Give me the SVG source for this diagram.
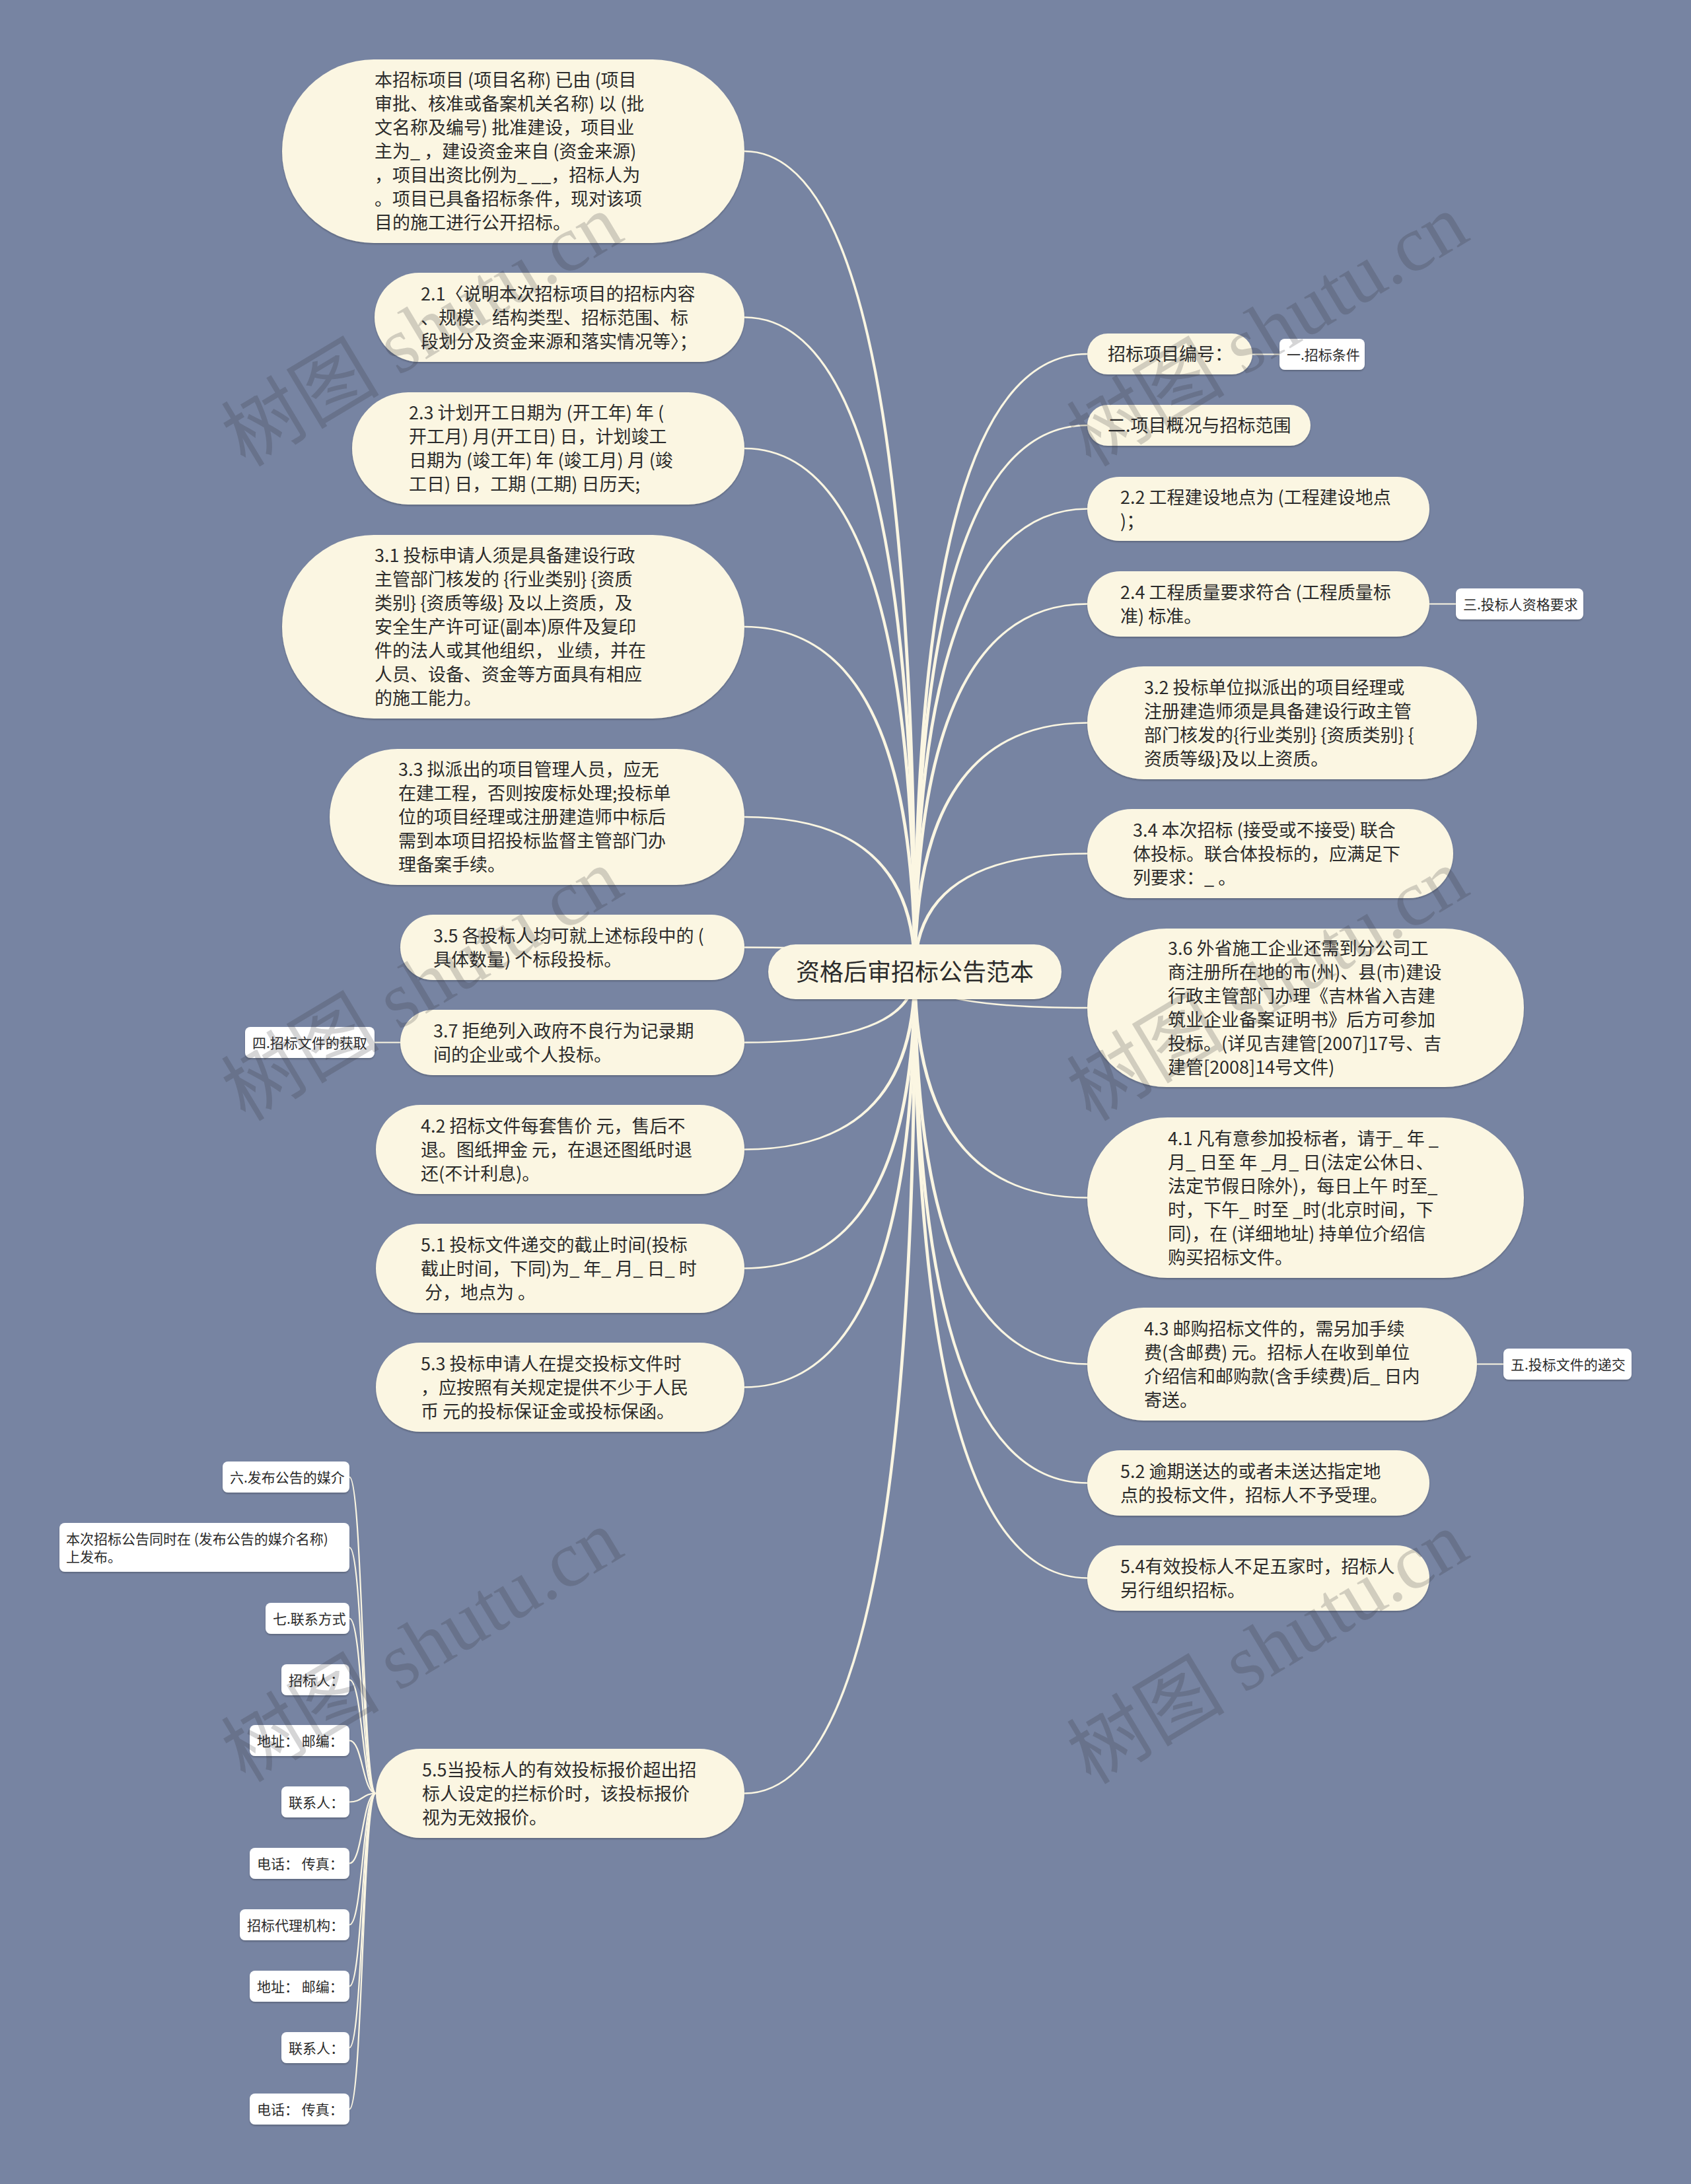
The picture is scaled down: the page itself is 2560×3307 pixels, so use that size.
<svg xmlns="http://www.w3.org/2000/svg" width="2560" height="3307" viewBox="0 0 2560 3307">
<defs>
<filter id="sh" x="-5%" y="-10%" width="110%" height="125%">
<feDropShadow dx="0" dy="2" stdDeviation="1.2" flood-color="#000" flood-opacity="0.22"/>
</filter>
<style>
.bg{fill:#7784A2}
.n{fill:#FBF6E2;filter:url(#sh)}
.w{fill:#FFFFFF;filter:url(#sh)}
.t{font-family:"Noto Sans CJK SC","Noto Sans",sans-serif;font-size:27px;fill:#2B2B2B}
.s{font-family:"Noto Sans CJK SC","Noto Sans",sans-serif;font-size:21px;fill:#2B2B2B}
.r{font-family:"Noto Sans CJK SC","Noto Sans",sans-serif;font-size:36px;fill:#2B2B2B;text-anchor:middle}
.c{fill:#FBF6E2;stroke:none}
.l{fill:none;stroke:#FBF6E2;stroke-width:2.2}
.wm{font-family:"Liberation Serif","Noto Sans CJK SC",serif;font-size:120px;fill:#2B2D33;fill-opacity:0.2;text-anchor:middle}
</style>
</defs>
<rect class="bg" x="0" y="0" width="2560" height="3307"/>

<g id="connectors">
<path class="c" d="M1127 227.8 Q1387.5 227.8 1387.5 1472 L1382.5 1472 Q1382.5 230.2 1127 230.2 Z"/>
<path class="c" d="M1127 479.3 Q1387.5 479.3 1387.5 1472 L1382.5 1472 Q1382.5 481.7 1127 481.7 Z"/>
<path class="c" d="M1127 677.8 Q1387.5 677.8 1387.5 1472 L1382.5 1472 Q1382.5 680.2 1127 680.2 Z"/>
<path class="c" d="M1127 947.8 Q1387.5 947.8 1387.5 1472 L1382.5 1472 Q1382.5 950.2 1127 950.2 Z"/>
<path class="c" d="M1127 1235.8 Q1387.5 1235.8 1387.5 1472 L1382.5 1472 Q1382.5 1238.2 1127 1238.2 Z"/>
<path class="c" d="M1127 1433.3 Q1387.5 1433.3 1387.5 1472 L1382.5 1472 Q1382.5 1435.7 1127 1435.7 Z"/>
<path class="c" d="M1127 1579.7 Q1387.5 1579.7 1387.5 1472 L1382.5 1472 Q1382.5 1577.3 1127 1577.3 Z"/>
<path class="c" d="M1127 1741.7 Q1387.5 1741.7 1387.5 1472 L1382.5 1472 Q1382.5 1739.3 1127 1739.3 Z"/>
<path class="c" d="M1127 1921.7 Q1387.5 1921.7 1387.5 1472 L1382.5 1472 Q1382.5 1919.3 1127 1919.3 Z"/>
<path class="c" d="M1127 2101.7 Q1387.5 2101.7 1387.5 1472 L1382.5 1472 Q1382.5 2099.3 1127 2099.3 Z"/>
<path class="c" d="M1127 2716.7 Q1387.5 2716.7 1387.5 1472 L1382.5 1472 Q1382.5 2714.3 1127 2714.3 Z"/>
<path class="c" d="M1646 534.8 Q1382.5 534.8 1382.5 1472 L1387.5 1472 Q1387.5 537.2 1646 537.2 Z"/>
<path class="c" d="M1646 642.8 Q1382.5 642.8 1382.5 1472 L1387.5 1472 Q1387.5 645.2 1646 645.2 Z"/>
<path class="c" d="M1646 769.3 Q1382.5 769.3 1382.5 1472 L1387.5 1472 Q1387.5 771.7 1646 771.7 Z"/>
<path class="c" d="M1646 913.3 Q1382.5 913.3 1382.5 1472 L1387.5 1472 Q1387.5 915.7 1646 915.7 Z"/>
<path class="c" d="M1646 1093.3 Q1382.5 1093.3 1382.5 1472 L1387.5 1472 Q1387.5 1095.7 1646 1095.7 Z"/>
<path class="c" d="M1646 1291.3 Q1382.5 1291.3 1382.5 1472 L1387.5 1472 Q1387.5 1293.7 1646 1293.7 Z"/>
<path class="c" d="M1646 1527.2 Q1382.5 1527.2 1382.5 1472 L1387.5 1472 Q1387.5 1524.8 1646 1524.8 Z"/>
<path class="c" d="M1646 1814.7 Q1382.5 1814.7 1382.5 1472 L1387.5 1472 Q1387.5 1812.3 1646 1812.3 Z"/>
<path class="c" d="M1646 2066.7 Q1382.5 2066.7 1382.5 1472 L1387.5 1472 Q1387.5 2064.3 1646 2064.3 Z"/>
<path class="c" d="M1646 2246.7 Q1382.5 2246.7 1382.5 1472 L1387.5 1472 Q1387.5 2244.3 1646 2244.3 Z"/>
<path class="c" d="M1646 2390.7 Q1382.5 2390.7 1382.5 1472 L1387.5 1472 Q1387.5 2388.3 1646 2388.3 Z"/>
<path class="l" d="M1896 536.5 L1937 536.5"/>
<path class="l" d="M2164 914.5 L2204 914.5"/>
<path class="l" d="M2236 2065.5 L2276 2065.5"/>
<path class="l" d="M606 1578.5 L567 1578.5"/>
<path class="l" d="M569 2715.5 C549 2715.5 549 2236.5 529 2236.5"/>
<path class="l" d="M569 2715.5 C549 2715.5 549 2343 529 2343"/>
<path class="l" d="M569 2715.5 C549 2715.5 549 2450.5 529 2450.5"/>
<path class="l" d="M569 2715.5 C549 2715.5 549 2543.5 529 2543.5"/>
<path class="l" d="M569 2715.5 C549 2715.5 549 2635.5 529 2635.5"/>
<path class="l" d="M569 2715.5 C549 2715.5 549 2728.5 529 2728.5"/>
<path class="l" d="M569 2715.5 C549 2715.5 549 2821.5 529 2821.5"/>
<path class="l" d="M569 2715.5 C549 2715.5 549 2914.5 529 2914.5"/>
<path class="l" d="M569 2715.5 C549 2715.5 549 3007.5 529 3007.5"/>
<path class="l" d="M569 2715.5 C549 2715.5 549 3100.5 529 3100.5"/>
<path class="l" d="M569 2715.5 C549 2715.5 549 3193.5 529 3193.5"/>
</g>

<g id="root">
<rect class="n" x="1163" y="1430" width="444" height="83" rx="41.5"/>
<text class="r" x="1385" y="1485">资格后审招标公告范本</text>
</g>

<g id="node-l1">
<rect class="n" x="427" y="90" width="700" height="278" rx="139"/>
<text class="t"><tspan x="567" y="131">本招标项目 (项目名称) 已由 (项目</tspan><tspan x="567" y="167">审批、核准或备案机关名称) 以 (批</tspan><tspan x="567" y="203">文名称及编号) 批准建设，项目业</tspan><tspan x="567" y="239">主为_ ，建设资金来自 (资金来源)</tspan><tspan x="567" y="275">，项目出资比例为_ __，招标人为</tspan><tspan x="567" y="311">。项目已具备招标条件，现对该项</tspan><tspan x="567" y="347">目的施工进行公开招标。</tspan></text>
</g>
<g id="node-l2">
<rect class="n" x="567" y="413" width="560" height="135" rx="67.5"/>
<text class="t"><tspan x="637" y="454.5">2.1〈说明本次招标项目的招标内容</tspan><tspan x="637" y="490.5">、规模、结构类型、招标范围、标</tspan><tspan x="637" y="526.5">段划分及资金来源和落实情况等〉；</tspan></text>
</g>
<g id="node-l3">
<rect class="n" x="533" y="594" width="594" height="170" rx="85"/>
<text class="t"><tspan x="619" y="635">2.3 计划开工日期为 (开工年) 年 (</tspan><tspan x="619" y="671">开工月) 月(开工日) 日，计划竣工</tspan><tspan x="619" y="707">日期为 (竣工年) 年 (竣工月) 月 (竣</tspan><tspan x="619" y="743">工日) 日，工期 (工期) 日历天;</tspan></text>
</g>
<g id="node-l4">
<rect class="n" x="427" y="810" width="700" height="278" rx="139"/>
<text class="t"><tspan x="567" y="851">3.1 投标申请人须是具备建设行政</tspan><tspan x="567" y="887">主管部门核发的 {行业类别} {资质</tspan><tspan x="567" y="923">类别} {资质等级} 及以上资质，及</tspan><tspan x="567" y="959">安全生产许可证(副本)原件及复印</tspan><tspan x="567" y="995">件的法人或其他组织， 业绩，并在</tspan><tspan x="567" y="1031">人员、设备、资金等方面具有相应</tspan><tspan x="567" y="1067">的施工能力。</tspan></text>
</g>
<g id="node-l5">
<rect class="n" x="499" y="1134" width="628" height="206" rx="103"/>
<text class="t"><tspan x="603" y="1175">3.3 拟派出的项目管理人员，应无</tspan><tspan x="603" y="1211">在建工程，否则按废标处理;投标单</tspan><tspan x="603" y="1247">位的项目经理或注册建造师中标后</tspan><tspan x="603" y="1283">需到本项目招投标监督主管部门办</tspan><tspan x="603" y="1319">理备案手续。</tspan></text>
</g>
<g id="node-l6">
<rect class="n" x="606" y="1385" width="521" height="99" rx="49.5"/>
<text class="t"><tspan x="656" y="1426.5">3.5 各投标人均可就上述标段中的 (</tspan><tspan x="656" y="1462.5">具体数量) 个标段投标。</tspan></text>
</g>
<g id="node-l7">
<rect class="n" x="606" y="1529" width="521" height="99" rx="49.5"/>
<text class="t"><tspan x="656" y="1570.5">3.7 拒绝列入政府不良行为记录期</tspan><tspan x="656" y="1606.5">间的企业或个人投标。</tspan></text>
</g>
<g id="node-l8">
<rect class="n" x="569" y="1673" width="558" height="135" rx="67.5"/>
<text class="t"><tspan x="637" y="1714.5">4.2 招标文件每套售价 元，售后不</tspan><tspan x="637" y="1750.5">退。图纸押金 元，在退还图纸时退</tspan><tspan x="637" y="1786.5">还(不计利息)。</tspan></text>
</g>
<g id="node-l9">
<rect class="n" x="569" y="1853" width="558" height="135" rx="67.5"/>
<text class="t"><tspan x="637" y="1894.5">5.1 投标文件递交的截止时间(投标</tspan><tspan x="637" y="1930.5">截止时间，下同)为_ 年_ 月_ 日_ 时</tspan><tspan x="637" y="1966.5"> 分，地点为 。</tspan></text>
</g>
<g id="node-l10">
<rect class="n" x="569" y="2033" width="558" height="135" rx="67.5"/>
<text class="t"><tspan x="637" y="2074.5">5.3 投标申请人在提交投标文件时</tspan><tspan x="637" y="2110.5">，应按照有关规定提供不少于人民</tspan><tspan x="637" y="2146.5">币 元的投标保证金或投标保函。</tspan></text>
</g>
<g id="node-l11">
<rect class="n" x="569" y="2648" width="558" height="135" rx="67.5"/>
<text class="t"><tspan x="639" y="2689.5">5.5当投标人的有效投标报价超出招</tspan><tspan x="639" y="2725.5">标人设定的拦标价时，该投标报价</tspan><tspan x="639" y="2761.5">视为无效报价。</tspan></text>
</g>

<g id="node-r1">
<rect class="n" x="1646" y="505" width="250" height="62" rx="31"/>
<text class="t" x="1677" y="546">招标项目编号：</text>
</g>
<g id="node-r2">
<rect class="n" x="1646" y="613" width="338" height="62" rx="31"/>
<text class="t" x="1677" y="654">二.项目概况与招标范围</text>
</g>
<g id="node-r3">
<rect class="n" x="1646" y="722" width="518" height="97" rx="48.5"/>
<text class="t"><tspan x="1696" y="762.5">2.2 工程建设地点为 (工程建设地点</tspan><tspan x="1696" y="798.5">)；</tspan></text>
</g>
<g id="node-r4">
<rect class="n" x="1646" y="865" width="518" height="99" rx="49.5"/>
<text class="t"><tspan x="1696" y="906.5">2.4 工程质量要求符合 (工程质量标</tspan><tspan x="1696" y="942.5">准) 标准。</tspan></text>
</g>
<g id="node-r5">
<rect class="n" x="1646" y="1009" width="590" height="171" rx="85.5"/>
<text class="t"><tspan x="1732" y="1050.5">3.2 投标单位拟派出的项目经理或</tspan><tspan x="1732" y="1086.5">注册建造师须是具备建设行政主管</tspan><tspan x="1732" y="1122.5">部门核发的{行业类别} {资质类别} {</tspan><tspan x="1732" y="1158.5">资质等级}及以上资质。</tspan></text>
</g>
<g id="node-r6">
<rect class="n" x="1646" y="1225" width="554" height="135" rx="67.5"/>
<text class="t"><tspan x="1715" y="1266.5">3.4 本次招标 (接受或不接受) 联合</tspan><tspan x="1715" y="1302.5">体投标。联合体投标的，应满足下</tspan><tspan x="1715" y="1338.5">列要求：_ 。</tspan></text>
</g>
<g id="node-r7">
<rect class="n" x="1646" y="1406" width="661" height="240" rx="120"/>
<text class="t"><tspan x="1768" y="1446">3.6 外省施工企业还需到分公司工</tspan><tspan x="1768" y="1482">商注册所在地的市(州)、县(市)建设</tspan><tspan x="1768" y="1518">行政主管部门办理《吉林省入吉建</tspan><tspan x="1768" y="1554">筑业企业备案证明书》后方可参加</tspan><tspan x="1768" y="1590">投标。(详见吉建管[2007]17号、吉</tspan><tspan x="1768" y="1626">建管[2008]14号文件)</tspan></text>
</g>
<g id="node-r8">
<rect class="n" x="1646" y="1692" width="661" height="243" rx="121.5"/>
<text class="t"><tspan x="1768" y="1733.5">4.1 凡有意参加投标者，请于_ 年 _</tspan><tspan x="1768" y="1769.5">月_ 日至 年 _月_ 日(法定公休日、</tspan><tspan x="1768" y="1805.5">法定节假日除外)，每日上午 时至_</tspan><tspan x="1768" y="1841.5">时，下午_ 时至 _时(北京时间，下</tspan><tspan x="1768" y="1877.5">同)，在 (详细地址) 持单位介绍信</tspan><tspan x="1768" y="1913.5">购买招标文件。</tspan></text>
</g>
<g id="node-r9">
<rect class="n" x="1646" y="1980" width="590" height="171" rx="85.5"/>
<text class="t"><tspan x="1732" y="2021.5">4.3 邮购招标文件的，需另加手续</tspan><tspan x="1732" y="2057.5">费(含邮费) 元。招标人在收到单位</tspan><tspan x="1732" y="2093.5">介绍信和邮购款(含手续费)后_ 日内</tspan><tspan x="1732" y="2129.5">寄送。</tspan></text>
</g>
<g id="node-r10">
<rect class="n" x="1646" y="2196" width="518" height="99" rx="49.5"/>
<text class="t"><tspan x="1696" y="2237.5">5.2 逾期送达的或者未送达指定地</tspan><tspan x="1696" y="2273.5">点的投标文件，招标人不予受理。</tspan></text>
</g>
<g id="node-r11">
<rect class="n" x="1646" y="2340" width="518" height="99" rx="49.5"/>
<text class="t"><tspan x="1696" y="2381.5">5.4有效投标人不足五家时，招标人</tspan><tspan x="1696" y="2417.5">另行组织招标。</tspan></text>
</g>

<g id="node-w1"><rect class="w" x="1937" y="513" width="129" height="47" rx="8"/><text class="s" x="1948" y="544.5">一.招标条件</text></g>
<g id="node-w2"><rect class="w" x="2204" y="891" width="193" height="47" rx="8"/><text class="s" x="2215" y="922.5">三.投标人资格要求</text></g>
<g id="node-w3"><rect class="w" x="2276" y="2042" width="194" height="47" rx="8"/><text class="s" x="2287" y="2073.5">五.投标文件的递交</text></g>
<g id="node-w4"><rect class="w" x="371" y="1555" width="196" height="47" rx="8"/><text class="s" x="382" y="1586.5">四.招标文件的获取</text></g>

<g id="node-s1"><rect class="w" x="337" y="2213" width="192" height="47" rx="8"/><text class="s" x="348" y="2244.5">六.发布公告的媒介</text></g>
<g id="node-s2"><rect class="w" x="90" y="2306" width="439" height="74" rx="8"/><text class="s"><tspan x="100" y="2337.5">本次招标公告同时在 (发布公告的媒介名称)</tspan><tspan x="100" y="2364.5">上发布。</tspan></text></g>
<g id="node-s3"><rect class="w" x="402" y="2427" width="127" height="47" rx="8"/><text class="s" x="413" y="2458.5">七.联系方式</text></g>
<g id="node-s4"><rect class="w" x="426" y="2520" width="103" height="47" rx="8"/><text class="s" x="437" y="2551.5">招标人：</text></g>
<g id="node-s5"><rect class="w" x="378" y="2612" width="151" height="47" rx="8"/><text class="s" x="389" y="2643.5">地址： 邮编：</text></g>
<g id="node-s6"><rect class="w" x="426" y="2705" width="103" height="47" rx="8"/><text class="s" x="437" y="2736.5">联系人：</text></g>
<g id="node-s7"><rect class="w" x="378" y="2798" width="151" height="47" rx="8"/><text class="s" x="389" y="2829.5">电话： 传真：</text></g>
<g id="node-s8"><rect class="w" x="363" y="2891" width="166" height="47" rx="8"/><text class="s" x="374" y="2922.5">招标代理机构：</text></g>
<g id="node-s9"><rect class="w" x="378" y="2984" width="151" height="47" rx="8"/><text class="s" x="389" y="3015.5">地址： 邮编：</text></g>
<g id="node-s10"><rect class="w" x="426" y="3077" width="103" height="47" rx="8"/><text class="s" x="437" y="3108.5">联系人：</text></g>
<g id="node-s11"><rect class="w" x="378" y="3170" width="151" height="47" rx="8"/><text class="s" x="389" y="3201.5">电话： 传真：</text></g>

<g id="watermarks">
<text class="wm" transform="translate(660,535) rotate(-31)">树图 shutu.cn</text>
<text class="wm" transform="translate(1940,535) rotate(-31)">树图 shutu.cn</text>
<text class="wm" transform="translate(660,1526) rotate(-31)">树图 shutu.cn</text>
<text class="wm" transform="translate(1940,1526) rotate(-31)">树图 shutu.cn</text>
<text class="wm" transform="translate(660,2527) rotate(-31)">树图 shutu.cn</text>
<text class="wm" transform="translate(1940,2530) rotate(-31)">树图 shutu.cn</text>
</g>
</svg>
